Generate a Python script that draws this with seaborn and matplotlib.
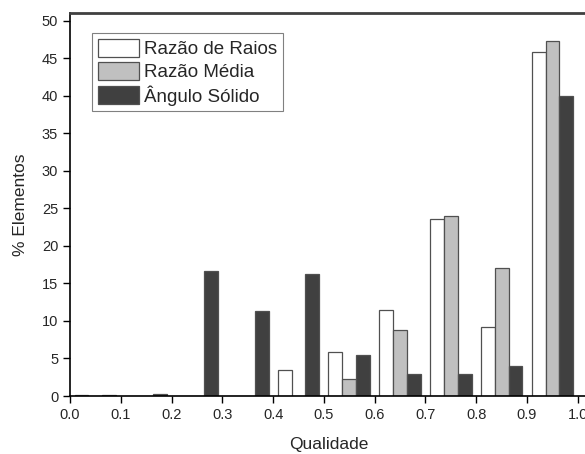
import pandas as pd
import seaborn as sns
import matplotlib.pyplot as plt

# bin centers of the quality histogram (0.1 wide bins)
centros = [0.05, 0.15, 0.25, 0.35, 0.45, 0.55, 0.65, 0.75, 0.85, 0.95]
series = ["Razão de Raios", "Razão Média", "Ângulo Sólido"]
razao_raios = [0.1, 0.0, 0.0, 0.0, 3.4, 5.8, 11.5, 23.6, 9.2, 45.8]
razao_media = [0.0, 0.0, 0.0, 0.0, 0.0, 2.3, 8.8, 24.0, 17.0, 47.3]
angulo_solido = [0.15, 0.3, 16.6, 11.3, 16.2, 5.4, 2.9, 2.9, 4.0, 40.0]
cores = ["#ffffff", "#c0c0c0", "#404040"]
xticks = [0.0, 0.1, 0.2, 0.3, 0.4, 0.5, 0.6, 0.7, 0.8, 0.9, 1.0]
yticks = [0, 5, 10, 15, 20, 25, 30, 35, 40, 45, 50]

rows = []
for nome, vals in zip(series, [razao_raios, razao_media, angulo_solido]):
    for c, v in zip(centros, vals):
        rows.append({"Qualidade": c, "valor": v, "serie": nome})
df = pd.DataFrame(rows)

sns.set_style("ticks")
plt.rcParams["font.family"] = ["Liberation Sans", "DejaVu Sans"]

fig = plt.figure(figsize=(5.85, 4.54), dpi=100)
# axes run slightly past the right edge, like the cropped original
ax = fig.add_axes([70 / 585, 1 - 396 / 454, 518 / 585, (396 - 13.3) / 454])

sns.barplot(
    data=df, x="Qualidade", y="valor", hue="serie",
    native_scale=True, width=0.82, palette=cores,
    edgecolor="#505050", linewidth=0.9, ax=ax, dodge=True,
)

ax.set_xlim(0, 1.02)
ax.set_ylim(0, 51)
ax.set_xticks(xticks)
ax.set_xticklabels([f"{t:.1f}" for t in xticks], fontsize=10.5)
ax.set_yticks(yticks)
ax.set_yticklabels([str(t) for t in yticks], fontsize=10.5)
ax.tick_params(direction="out", length=5, width=1, color="black")
ax.set_xlabel("Qualidade", fontsize=12.5, labelpad=11)
ax.set_ylabel("% Elementos", fontsize=12.5, labelpad=10)

for lado in ["left", "bottom"]:
    ax.spines[lado].set_color("black")
    ax.spines[lado].set_linewidth(1.2)
ax.spines["top"].set_color("#404040")
ax.spines["top"].set_linewidth(2)
ax.spines["right"].set_visible(False)

handles, labels = ax.get_legend_handles_labels()
leg = ax.legend(
    handles, labels, loc="upper left",
    bbox_to_anchor=(22 / 518, 1 - 20 / 382.7), borderaxespad=0,
    fontsize=13.5, frameon=True, fancybox=False,
    handlelength=2.2, handleheight=1.1, handletextpad=0.3,
    labelspacing=0.2, borderpad=0.3,
)
leg.get_frame().set_edgecolor("#606060")
leg.get_frame().set_linewidth(0.8)
for h in leg.legend_handles:
    h.set_edgecolor("#505050")

fig.savefig("out.png", dpi=100)
